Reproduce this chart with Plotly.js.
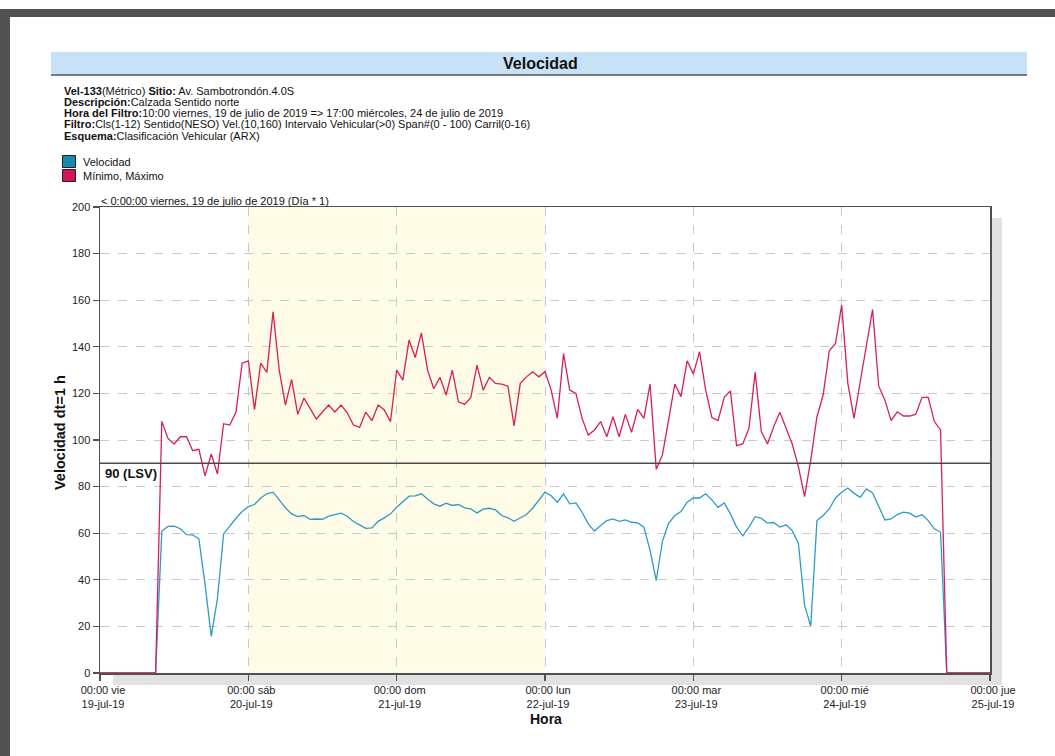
<!DOCTYPE html>
<html>
<head>
<meta charset="utf-8">
<script src="https://cdn.plot.ly/plotly-3.0.1.min.js"></script>
<style>
html,body{margin:0;padding:0;background:#fff;overflow:hidden;}
#chart{width:1055px;height:756px;}
</style>
</head>
<body>
<div id="chart"></div>
<script>
// ---- Data (hourly values) ----
// Velocidad (average speed), per day starting hour
const velFri = [60.9, 62.9, 63, 61.9, 59.4, 59.3, 57.6, 38, 15.7, 31.9, 59.7, 63.3, 66.4, 69.3]; // 10:00..23:00
const velSat = [71.4, 72.3, 75.1, 76.9, 77.6, 74.3, 70.9, 68.3, 67.1, 67.6, 65.9, 66.1, 66, 67.3, 67.9, 68.6, 67.3, 65, 63.6, 62.1, 62.3, 65.1, 66.6, 68.3];
const velSun = [71.1, 73.7, 75.9, 76, 76.9, 74.7, 72.6, 71.6, 72.9, 71.9, 72.3, 70.9, 70.4, 68.7, 70.3, 70.7, 70, 67.6, 66.6, 65.1, 66.6, 68, 70.7, 74.3];
const velMon = [77.6, 76.1, 73.3, 76.9, 72.6, 73, 69, 64, 60.9, 63.3, 65.4, 66.1, 65.1, 65.7, 64.7, 64.4, 62.6, 52.6, 39.7, 56.5, 64.2, 67.6, 69.3, 73.3];
const velTue = [75.1, 75.1, 76.9, 74.3, 71.1, 73, 68.3, 62.6, 58.9, 62.6, 67.1, 66.4, 64.3, 64.6, 62.6, 63.6, 61.1, 55.7, 29, 20.1, 65.4, 67.6, 70.4, 75.1];
const velWed = [77.6, 79.4, 77.1, 75.4, 79, 77.3, 71.4, 65.7, 66.1, 68, 69, 68.6, 66.9, 68, 65.4, 61.9, 60.4]; // 00:00..16:00

// Mínimo, Máximo (maximum line)
const maxFri = [108, 100.7, 98.3, 101.4, 101.4, 95.4, 96, 84.6, 94, 85.4, 107, 106.4, 112, 133];
const maxSat = [134, 113, 133, 129, 155, 130, 115, 126, 111, 118, 113.6, 109, 112, 115, 112, 115, 111.7, 106.4, 105.4, 112, 108.3, 115, 112.9, 107.9];
const maxSun = [130, 125.7, 142.9, 135.4, 146, 130, 122, 126.9, 119.3, 130, 116.4, 115.3, 118.3, 132.1, 121.4, 126.9, 124.3, 124, 123.1, 106.1, 124.3, 127.1, 129.3, 127.1];
const maxMon = [129.3, 121.4, 109.3, 137.1, 121.4, 120, 109.3, 102.1, 104.3, 107.9, 101.4, 110, 101.4, 111, 103.3, 113.1, 109.3, 124, 87.4, 93.6, 108.6, 124, 118.6, 134];
const maxTue = [128.3, 137.9, 121.4, 109.6, 108.3, 118.3, 121.1, 97.6, 98.3, 105, 129, 103.6, 98.3, 105.7, 111.9, 105, 98.3, 88.6, 75.7, 91.4, 110, 119.3, 138.3, 141.4];
const maxWed = [157.9, 124.3, 109.3, 125, 140, 156, 123.1, 117.1, 108.3, 112.1, 110.3, 110.3, 111.1, 118.3, 118.3, 107.9, 104.3];

// Zero padding outside the filter window
const padStartTimes = ['2019-07-19 00:00', '2019-07-19 09:00'];
const padStartVals = [0, 0];
const padEndTimes = ['2019-07-24 17:00', '2019-07-25 00:00'];
const padEndVals = [0, 0];

const dayDates = ['2019-07-19', '2019-07-20', '2019-07-21', '2019-07-22', '2019-07-23', '2019-07-24', '2019-07-25'];
const dayTickText = ['00:00 vie<br>19-jul-19', '00:00 sáb<br>20-jul-19', '00:00 dom<br>21-jul-19', '00:00 lun<br>22-jul-19', '00:00 mar<br>23-jul-19', '00:00 mié<br>24-jul-19', '00:00 jue<br>25-jul-19'];
const weekendStart = '2019-07-20 00:00';
const weekendEnd = '2019-07-22 00:00';
const lsv = 90;

// ---- build hourly series ----
function pad2(n){return (n<10?'0':'')+n;}
function buildSeries(days, firstHours){
  const xs = padStartTimes.slice(), ys = padStartVals.slice();
  days.forEach((arr, d) => {
    arr.forEach((v, i) => {
      xs.push(dayDates[d] + ' ' + pad2(firstHours[d] + i) + ':00');
      ys.push(v);
    });
  });
  padEndTimes.forEach((t, i) => { xs.push(t); ys.push(padEndVals[i]); });
  return {x: xs, y: ys};
}
const firstHours = [10, 0, 0, 0, 0, 0];
const vel = buildSeries([velFri, velSat, velSun, velMon, velTue, velWed], firstHours);
const mx = buildSeries([maxFri, maxSat, maxSun, maxMon, maxTue, maxWed], firstHours);

// ---- pixel -> paper helpers (plot area 100..990 x 207..673) ----
const L = 100, R = 990, T = 207, B = 673;
const PX = p => (p - L) / (R - L);
const PY = p => (B - p) / (B - T);

const FONT = 'Arial, "Liberation Sans", sans-serif';
const dark = '#505254';
const HF = 11;

const shapes = [
  // page frame
  {type:'rect', xref:'paper', yref:'paper', x0:PX(0), x1:PX(1055), y0:PY(9), y1:PY(17), fillcolor:dark, line:{width:0}, layer:'below'},
  {type:'rect', xref:'paper', yref:'paper', x0:PX(0), x1:PX(10), y0:PY(9), y1:PY(756), fillcolor:dark, line:{width:0}, layer:'below'},
  // title bar
  {type:'rect', xref:'paper', yref:'paper', x0:PX(51), x1:PX(1027), y0:PY(52), y1:PY(75), fillcolor:'#c7e1f7', line:{width:0}, layer:'below'},
  {type:'line', xref:'paper', yref:'paper', x0:PX(51), x1:PX(1027), y0:PY(75), y1:PY(75), line:{color:'#555', width:1.5}, layer:'below'},
  // legend swatches
  {type:'rect', xref:'paper', yref:'paper', x0:PX(62.5), x1:PX(75.5), y0:PY(155.5), y1:PY(167.5), fillcolor:'#1b88b3', line:{color:'#222', width:1}, layer:'below'},
  {type:'rect', xref:'paper', yref:'paper', x0:PX(62.5), x1:PX(75.5), y0:PY(169.5), y1:PY(181.5), fillcolor:'#d5135b', line:{color:'#222', width:1}, layer:'below'},
  // shadow and plot background
  {type:'rect', xref:'paper', yref:'paper', x0:PX(113), x1:PX(1002), y0:PY(218), y1:PY(685), fillcolor:'#e1e1e1', line:{width:0}, layer:'below'},
  {type:'rect', xref:'paper', yref:'paper', x0:0, x1:1, y0:0, y1:1, fillcolor:'#ffffff', line:{width:0}, layer:'below'},
  // weekend shading
  {type:'rect', xref:'x', yref:'paper', x0:weekendStart, x1:weekendEnd, y0:0, y1:1, fillcolor:'#fefce6', line:{width:0}, layer:'below'},
  // LSV line
  {type:'line', xref:'paper', yref:'y', x0:0, x1:1, y0:lsv, y1:lsv, line:{color:'#4a4a4a', width:1.5}, layer:'above'}
];

const annotations = [
  {xref:'paper', yref:'paper', x:PX(540), y:PY(63.5), text:'<b>Velocidad</b>', showarrow:false, xanchor:'center', yanchor:'middle', font:{family:FONT, size:16, color:'#111'}},
  {xref:'paper', yref:'paper', x:PX(62), y:PY(90.5), text:'<b>Vel-133</b>(Métrico) <b>Sitio:</b> Av. Sambotrondón.4.0S', showarrow:false, xanchor:'left', yanchor:'middle', font:{family:FONT, size:HF, color:'#111'}},
  {xref:'paper', yref:'paper', x:PX(62), y:PY(101.8), text:'<b>Descripción:</b>Calzada Sentido norte', showarrow:false, xanchor:'left', yanchor:'middle', font:{family:FONT, size:HF, color:'#111'}},
  {xref:'paper', yref:'paper', x:PX(62), y:PY(113.1), text:'<b>Hora del Filtro:</b>10:00 viernes, 19 de julio de 2019 =&gt; 17:00 miércoles, 24 de julio de 2019', showarrow:false, xanchor:'left', yanchor:'middle', font:{family:FONT, size:HF, color:'#111'}},
  {xref:'paper', yref:'paper', x:PX(62), y:PY(124.4), text:'<b>Filtro:</b>Cls(1-12) Sentido(NESO) Vel.(10,160) Intervalo Vehicular(&gt;0) Span#(0 - 100) Carril(0-16)', showarrow:false, xanchor:'left', yanchor:'middle', font:{family:FONT, size:HF, color:'#111'}},
  {xref:'paper', yref:'paper', x:PX(62), y:PY(135.7), text:'<b>Esquema:</b>Clasificación Vehicular (ARX)', showarrow:false, xanchor:'left', yanchor:'middle', font:{family:FONT, size:HF, color:'#111'}},
  {xref:'paper', yref:'paper', x:PX(81), y:PY(161.5), text:'Velocidad', showarrow:false, xanchor:'left', yanchor:'middle', font:{family:FONT, size:HF, color:'#111'}},
  {xref:'paper', yref:'paper', x:PX(81), y:PY(175.5), text:'Mínimo, Máximo', showarrow:false, xanchor:'left', yanchor:'middle', font:{family:FONT, size:HF, color:'#111'}},
  {xref:'paper', yref:'paper', x:PX(99), y:PY(200.5), text:'&lt; 0:00:00 viernes, 19 de julio de 2019 (Día * 1)', showarrow:false, xanchor:'left', yanchor:'middle', font:{family:FONT, size:HF, color:'#111'}},
  {xref:'paper', yref:'y', x:PX(103), y:lsv, text:'<b>90 (LSV)</b>', showarrow:false, xanchor:'left', yanchor:'top', yshift:-1, font:{family:FONT, size:13, color:'#111'}},
  {xref:'paper', yref:'paper', x:PX(60), y:PY(433), text:'<b>Velocidad dt=1 h</b>', textangle:-90, showarrow:false, xanchor:'center', yanchor:'middle', font:{family:FONT, size:14.5, color:'#111'}},
  {xref:'paper', yref:'paper', x:PX(546), y:PY(719), text:'<b>Hora</b>', showarrow:false, xanchor:'center', yanchor:'middle', font:{family:FONT, size:14, color:'#111'}}
];

const traces = [
  {x: vel.x, y: vel.y, type:'scatter', mode:'lines', name:'Velocidad', line:{color:'#2f9bc4', width:1.3}, hoverinfo:'skip'},
  {x: mx.x, y: mx.y, type:'scatter', mode:'lines', name:'Mínimo, Máximo', line:{color:'#d61f5f', width:1.3}, hoverinfo:'skip'}
];

const axisCommon = {
  showgrid:true, gridcolor:'#c9c9c9', griddash:'dash', gridwidth:1,
  showline:true, linecolor:'#505050', linewidth:1.5, mirror:true,
  ticks:'outside', ticklen:6, tickcolor:'#505050', tickwidth:1.2,
  zeroline:false, tickfont:{family:FONT, size:11, color:'#222'}
};

const layout = {
  width:1055, height:756,
  margin:{l:L, r:1055-R, t:T, b:756-B, pad:0},
  paper_bgcolor:'#ffffff', plot_bgcolor:'#ffffff',
  showlegend:false,
  xaxis: Object.assign({}, axisCommon, {
    type:'date', range:[dayDates[0] + ' 00:00', dayDates[6] + ' 00:00'],
    tickmode:'array', tickvals: dayDates.map(d => d + ' 00:00'), ticktext: dayTickText,
    ticklabelshift:3
  }),
  yaxis: Object.assign({}, axisCommon, {range:[0,200], dtick:20, tick0:0, fixedrange:true}),
  shapes: shapes,
  annotations: annotations
};

Plotly.newPlot('chart', traces, layout, {staticPlot:true, displayModeBar:false});
</script>
</body>
</html>
